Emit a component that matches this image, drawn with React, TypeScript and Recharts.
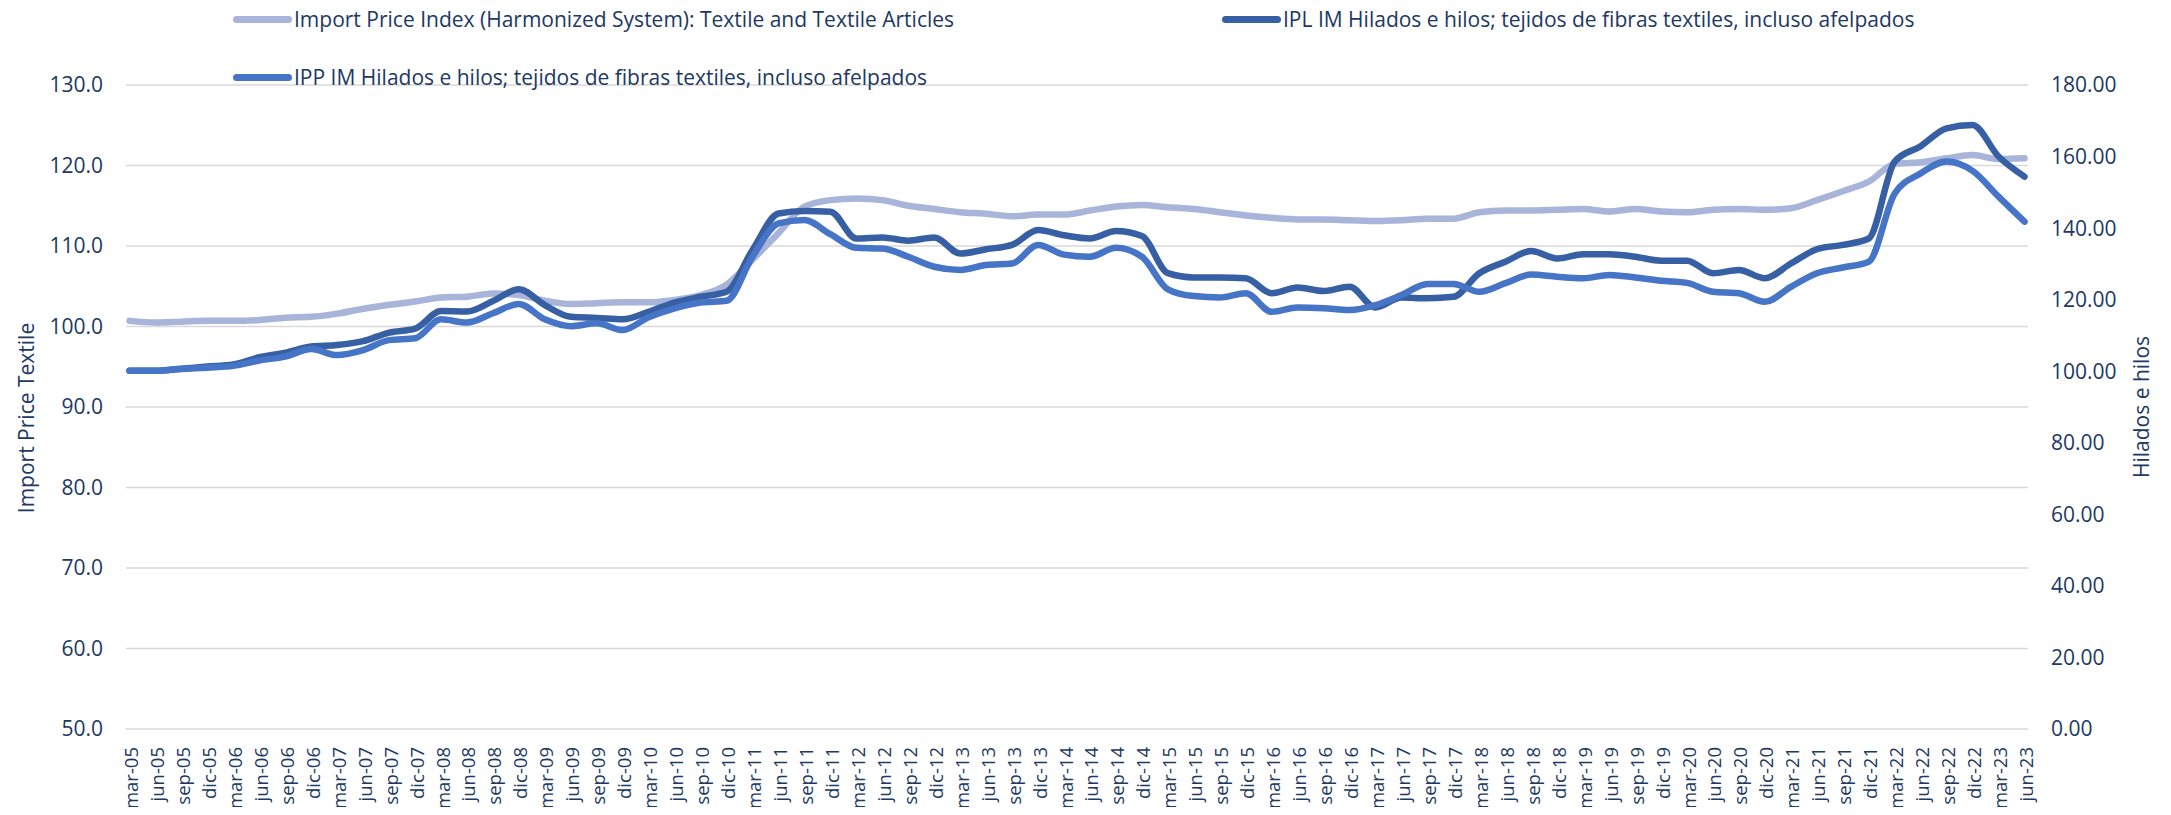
import React from 'react';
import { LineChart, Line, XAxis, YAxis, CartesianGrid } from 'recharts';

const categories = [
  'mar-05','jun-05','sep-05','dic-05','mar-06','jun-06','sep-06','dic-06',
  'mar-07','jun-07','sep-07','dic-07','mar-08','jun-08','sep-08','dic-08',
  'mar-09','jun-09','sep-09','dic-09','mar-10','jun-10','sep-10','dic-10',
  'mar-11','jun-11','sep-11','dic-11','mar-12','jun-12','sep-12','dic-12',
  'mar-13','jun-13','sep-13','dic-13','mar-14','jun-14','sep-14','dic-14',
  'mar-15','jun-15','sep-15','dic-15','mar-16','jun-16','sep-16','dic-16',
  'mar-17','jun-17','sep-17','dic-17','mar-18','jun-18','sep-18','dic-18',
  'mar-19','jun-19','sep-19','dic-19','mar-20','jun-20','sep-20','dic-20',
  'mar-21','jun-21','sep-21','dic-21','mar-22','jun-22','sep-22','dic-22',
  'mar-23','jun-23',
];

// Left axis: Import Price Index (Harmonized System): Textile and Textile Articles
const importPriceIndex = [
  100.7, 100.5, 100.6, 100.7, 100.7, 100.8, 101.1, 101.2,
  101.6, 102.2, 102.7, 103.1, 103.6, 103.7, 104.1, 103.9,
  103.2, 102.8, 102.9, 103.0, 103.0, 103.3, 103.9, 105.2,
  108.3, 111.6, 114.9, 115.7, 115.9, 115.7, 115.0, 114.6,
  114.2, 114.0, 113.7, 113.9, 113.9, 114.4, 114.9, 115.1,
  114.8, 114.6, 114.2, 113.8, 113.5, 113.3, 113.3, 113.2,
  113.1, 113.2, 113.4, 113.4, 114.2, 114.4, 114.4, 114.5,
  114.6, 114.3, 114.6, 114.3, 114.2, 114.5, 114.6, 114.5,
  114.7, 115.7, 116.8, 118.0, 120.2, 120.4, 120.9, 121.3,
  120.8, 120.9,
];

// Right axis: IPL IM Hilados e hilos
const iplHilados = [
  100.1, 100.1, 100.7, 101.3, 101.9, 103.9, 105.2, 106.9,
  107.3, 108.4, 110.8, 111.9, 116.8, 116.7, 119.6, 122.9,
  118.5, 115.2, 114.9, 114.5, 116.6, 119.2, 120.8, 122.2,
  133.9, 144.1, 144.8, 144.6, 137.1, 137.4, 136.5, 137.4,
  132.9, 134.1, 135.3, 139.5, 138.0, 137.1, 139.2, 137.8,
  127.4, 126.2, 126.2, 126.0, 121.8, 123.4, 122.4, 123.6,
  117.8, 120.6, 120.4, 120.8, 127.4, 130.6, 133.6, 131.5,
  132.7, 132.7, 132.0, 130.9, 130.9, 127.4, 128.3, 126.0,
  130.1, 134.1, 135.3, 137.1, 158.6, 162.9, 167.9, 168.8,
  160.0, 154.4,
];

// Right axis: IPP IM Hilados e hilos
const ippHilados = [
  100.1, 100.1, 100.6, 101.0, 101.5, 103.0, 104.1, 106.2,
  104.5, 105.9, 108.7, 109.2, 114.5, 113.6, 116.2, 118.8,
  114.5, 112.6, 113.4, 111.5, 115.1, 117.6, 119.2, 119.7,
  132.0, 141.3, 142.3, 138.3, 134.5, 134.3, 132.0, 129.2,
  128.3, 129.7, 130.1, 135.3, 132.6, 132.0, 134.5, 132.0,
  122.9, 121.0, 120.6, 121.8, 116.6, 117.8, 117.6, 117.1,
  118.5, 121.3, 124.4, 124.4, 122.2, 124.6, 127.0, 126.4,
  126.0, 126.9, 126.2, 125.3, 124.7, 122.2, 121.8, 119.4,
  123.6, 127.4, 129.0, 130.6, 149.7, 155.3, 158.6, 156.0,
  148.8, 141.8,
];

const leftTicks = [50, 60, 70, 80, 90, 100, 110, 120, 130];
const rightTicks = [0, 20, 40, 60, 80, 100, 120, 140, 160, 180];

const seriesNames = {
  ipi: 'Import Price Index (Harmonized System): Textile and Textile Articles',
  ipl: 'IPL IM Hilados e hilos; tejidos de fibras textiles, incluso afelpados',
  ipp: 'IPP IM Hilados e hilos; tejidos de fibras textiles, incluso afelpados',
};

const data = categories.map((c, i) => ({
  name: c,
  ipi: importPriceIndex[i],
  ipl: iplHilados[i],
  ipp: ippHilados[i],
}));

const TEXT = '#203864';
const FONT = '"Open Sans", "Noto Sans", sans-serif';
const C_IPI = '#A8B4DA';
const C_IPL = '#375FA3';
const C_IPP = '#4674C6';

const W = 2155;
const H = 799;

const XTick = (props: any) => {
  const { x, payload } = props;
  return (
    <text
      transform={`translate(${x + 1},739) rotate(-90)`}
      textAnchor="end"
      dominantBaseline="central"
      fill={TEXT}
      fontSize={18.5}
      fontFamily={FONT}
    >
      {payload.value}
    </text>
  );
};

const LeftTitle = () => (
  <text
    transform="translate(26,410) rotate(-90)"
    textAnchor="middle"
    fill={TEXT}
    fontSize={21}
    fontFamily={FONT}
  >
    Import Price Textile
  </text>
);

const RightTitle = () => (
  <text
    transform="translate(2141,399) rotate(-90)"
    textAnchor="middle"
    fill={TEXT}
    fontSize={21}
    fontFamily={FONT}
  >
    Hilados e hilos
  </text>
);

const LegendItem = ({ left, top, color, label }: { left: number; top: number; color: string; label: string }) => (
  <div
    style={{
      position: 'absolute',
      left,
      top: top - 14,
      height: 28,
      display: 'flex',
      alignItems: 'center',
      whiteSpace: 'nowrap',
      fontFamily: FONT,
      fontSize: 21,
      color: TEXT,
    }}
  >
    <div style={{ width: 59, height: 7, borderRadius: 4, background: color, marginRight: 2 }} />
    <span>{label}</span>
  </div>
);

export default function App() {
  return (
    <div style={{ position: 'relative', width: W, height: H, background: '#ffffff' }}>
      <style>{'.recharts-surface{overflow:visible !important;} .recharts-wrapper{overflow:visible !important;}'}</style>
      <LineChart
        width={W}
        height={H}
        data={data}
        margin={{ top: 77, right: 35, bottom: 8, left: 18 }}
      >
        <CartesianGrid
          yAxisId="left"
          vertical={false}
          stroke="#D9D9D9"
          strokeWidth={1.6}
        />
        <XAxis
          dataKey="name"
          interval={0}
          height={70}
          axisLine={false}
          tickLine={false}
          padding={{ left: 3.5, right: 3.5 }}
          tick={<XTick />}
        />
        <YAxis
          yAxisId="left"
          orientation="left"
          width={100}
          domain={[50, 130]}
          ticks={leftTicks}
          interval={0}
          axisLine={false}
          tickLine={false}
          tickSize={0}
          tickMargin={23}
          tickFormatter={(v: number) => v.toFixed(1)}
          tick={{ fill: TEXT, fontSize: 21, fontFamily: FONT }}
          label={<LeftTitle />}
        />
        <YAxis
          yAxisId="right"
          orientation="right"
          width={100}
          domain={[0, 180]}
          ticks={rightTicks}
          interval={0}
          axisLine={false}
          tickLine={false}
          tickSize={0}
          tickMargin={23}
          tickFormatter={(v: number) => v.toFixed(2)}
          tick={{ fill: TEXT, fontSize: 21, fontFamily: FONT }}
          label={<RightTitle />}
        />
        <Line
          yAxisId="left"
          type="monotone"
          dataKey="ipi"
          name={seriesNames.ipi}
          stroke={C_IPI}
          strokeWidth={6.5}
          strokeLinecap="round"
          strokeLinejoin="round"
          dot={false}
          activeDot={false}
          isAnimationActive={false}
        />
        <Line
          yAxisId="right"
          type="monotone"
          dataKey="ipl"
          name={seriesNames.ipl}
          stroke={C_IPL}
          strokeWidth={6.5}
          strokeLinecap="round"
          strokeLinejoin="round"
          dot={false}
          activeDot={false}
          isAnimationActive={false}
        />
        <Line
          yAxisId="right"
          type="monotone"
          dataKey="ipp"
          name={seriesNames.ipp}
          stroke={C_IPP}
          strokeWidth={6.5}
          strokeLinecap="round"
          strokeLinejoin="round"
          dot={false}
          activeDot={false}
          isAnimationActive={false}
        />
      </LineChart>
      <LegendItem left={225} top={11} color={C_IPI} label={seriesNames.ipi} />
      <LegendItem left={1214} top={11} color={C_IPL} label={seriesNames.ipl} />
      <LegendItem left={225} top={69} color={C_IPP} label={seriesNames.ipp} />
    </div>
  );
}
